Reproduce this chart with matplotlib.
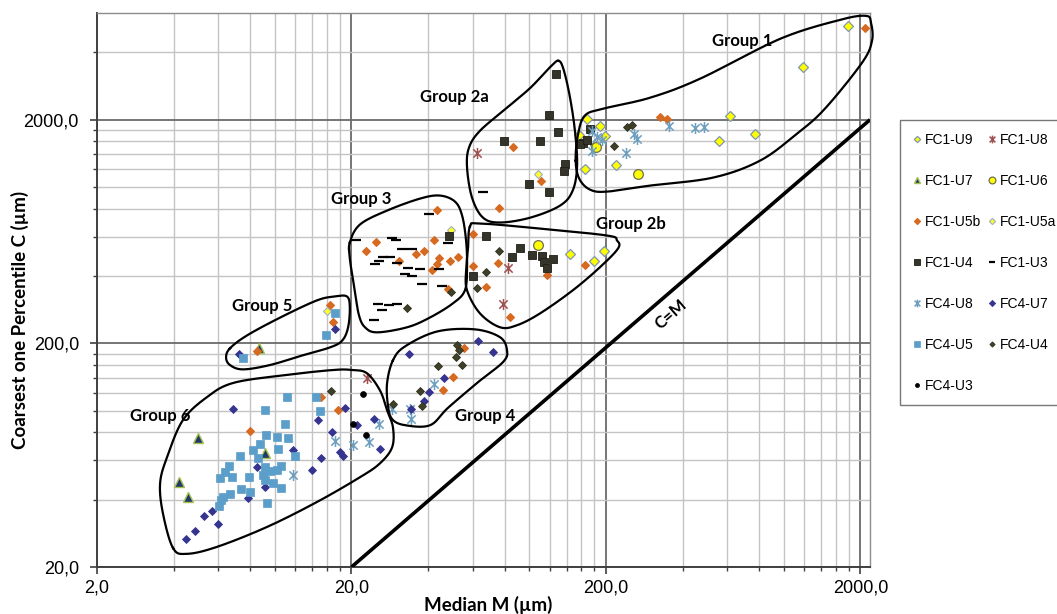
import numpy as np
import matplotlib
matplotlib.use('Agg')
import matplotlib.pyplot as plt
from matplotlib.path import Path
from matplotlib.ticker import FixedLocator, FixedFormatter, NullFormatter

# ---------------- data (Median M, Coarsest one percentile C), µm ----------------
FC1_U9_M = [1781, 1186, 614, 557, 770, 168, 189, 181, 199, 166, 219, 157, 145, 180, 196]
FC1_U9_C = [5256, 3449, 2078, 1612, 1728, 2013, 1880, 1547, 1691, 1205, 1250, 1710, 503, 469, 515]

FC1_U8_M = [62.1, 82.6, 79.0, 23.1]
FC1_U8_C = [1415, 435, 301, 140]

FC1_U7_M = [4.97, 4.21, 4.57, 9.15, 8.66]
FC1_U7_C = [75.1, 48.1, 41.2, 64.4, 190.6]

FC1_U6_M = [268, 108, 183]
FC1_U6_C = [1145, 548, 1516]

FC1_U5b_M = [7.98, 17.7, 15.2, 16.4, 16.9, 8.54, 45.6, 50.2, 55.5, 84.1, 43.2, 60.2, 76.3, 25.0,
             22.8, 30.8, 35.8, 38.6, 42.2, 44.3, 43.5, 41.3, 48.8, 52.6, 48.0, 59.9, 75.1, 67.4,
             117, 165, 86.0, 111, 326, 347, 2084]
FC1_U5b_C = [81.2, 100.4, 115.2, 296, 249, 184, 124, 141.5, 191, 262, 793, 619, 805, 568,
             517, 469, 503, 515, 577, 482, 451, 426, 469, 486, 351, 444, 457, 357,
             404, 448, 1504, 1069, 2048, 2006, 5165]

FC1_U5a_M = [108, 49.1, 16.0]
FC1_U5a_C = [1145, 644, 279]

FC1_U4_M = [126.9, 119.8, 129.9, 110.1, 79.8, 138, 136.8, 99.4, 119.1, 173, 162.8, 158, 168.4,
            48.4, 67.5, 91.8, 85.7, 102, 111.8, 114.2, 124.2, 117, 60.2]
FC1_U4_C = [3194, 2094, 1768, 1607, 1607, 1264, 1176, 1033, 947, 1823, 1578, 1557, 1628,
            602, 602, 534, 489, 498, 494, 460, 478, 435, 402]

FC1_U3_M = [40.4, 20.8, 28.9, 29.9, 31.5, 34.5, 26.7, 28.3, 25.7, 24.7, 30.2, 33.4, 32.5,
            34.5, 37.2, 37.7, 44.3, 45.2, 48.0, 25.5, 28.0, 30.2, 26.4, 24.5, 65.9]
FC1_U3_C = [757, 577, 590, 580, 529, 527, 486, 489, 469, 451, 457, 434, 409,
            402, 431, 370, 431, 360, 561, 299, 296, 299, 283, 255, 951]

FC4_U8_M = [11.8, 17.2, 20.3, 23.4, 25.7, 28.9, 34.0, 34.2, 42.1, 176, 184, 193, 176, 239,
            258, 265, 355, 449, 485]
FC4_U8_C = [51.5, 73.0, 70.5, 72.7, 87.3, 101.3, 101.3, 92.2, 131.6, 1786, 1680, 1628, 1446, 1417,
            1732, 1637, 1871, 1836, 1852]

FC4_U7_M = [4.47, 4.85, 5.27, 5.65, 5.96, 6.85, 7.82, 8.51, 9.15, 11.8, 14.0, 15.2, 14.8, 16.7,
            18.1, 18.6, 18.9, 21.1, 24.6, 26.0, 33.8, 34.3, 38.6, 40.3, 46.3, 63.0, 72.1, 7.23, 17.2]
FC4_U7_C = [26.8, 29.0, 33.8, 35.6, 31.0, 102, 40.8, 55.9, 45.7, 66.6, 54.2, 61.7, 90.7, 80.1,
            65.4, 62.8, 103, 86.1, 91.6, 67.3, 178.6, 101.5, 111, 120.8, 140.6, 204, 183, 180, 233]

FC4_U5_M = [11.13, 9.15, 14.47, 15.04, 10.96, 9.23, 10.17, 11.23, 8.17, 8.74, 10.26, 7.29, 6.60,
            8.61, 9.15, 9.57, 10.57, 10.17, 6.37, 6.09, 6.77, 7.91, 8.96, 9.15, 9.86, 10.57, 7.33,
            7.98, 6.66, 6.25, 6.14, 6.03, 9.29, 12.0, 7.47, 15.9, 17.2]
FC4_U5_C = [115.2, 101.2, 115.2, 99.4, 87.6, 77.7, 76.4, 75.6, 66.9, 71.3, 67.1, 62.6, 56.5,
            61.5, 56.1, 53.7, 56.5, 54.2, 53.3, 49.8, 50.3, 50.3, 51.5, 48.9, 47.6, 45.2, 44.8,
            43.4, 42.2, 41.2, 39.8, 37.6, 38.5, 62.4, 172.7, 217, 273]

FC4_U4_M = [76.2, 67.4, 62.4, 49.2, 33.0, 51.8, 52.7, 51.5, 54.2, 43.6, 37.2, 37.7, 29.1, 16.6,
            215, 242, 253]
FC4_U4_C = [520, 416, 353, 339, 289, 197, 187, 173, 160, 158, 122, 105, 107, 123,
            1522, 1862, 1890]

FC4_U3_M = [22.1, 20.3, 22.9]
FC4_U3_C = [119, 86.8, 77.7]

# group envelopes (M, C)
G1_M = [152, 155, 165, 195, 298, 468, 966, 1661, 2102, 2200, 2220, 2028, 1450, 1126, 806, 527, 298, 202, 173, 157]
G1_C = [1312, 1698, 2084, 2240, 2508, 3048, 4598, 5590, 5826, 5420, 4506, 3594, 2240, 1732, 1312, 1102, 1015, 954, 974, 1090]
G2a_M = [130, 136, 144, 151, 154, 148, 132, 101, 76.7, 65.7, 59.5, 56.9, 57.9, 64.0, 81.7, 101, 121]
G2a_C = [3668, 3378, 2560, 1786, 1246, 964, 826, 730, 694, 730, 897, 1221, 1500, 1786, 2263, 2780, 3449]
G2b_M = [58.4, 64.0, 110, 202, 221, 223, 189, 148, 110, 89.4, 76.7, 64.0, 56.9, 56.4, 57.4]
G2b_C = [666, 687, 652, 607, 577, 531, 437, 345, 272, 241, 236, 272, 345, 424, 531]
G3_M = [19.7, 21.6, 27.6, 37.2, 44.5, 51.0, 54.4, 56.4, 56.9, 55.8, 50.1, 40.7, 33.1, 25.2, 22.6, 21.4, 20.6, 19.7]
G3_C = [565, 680, 785, 888, 916, 861, 746, 577, 437, 345, 302, 261, 236, 224, 236, 267, 345, 479]
G4_M = [29.1, 32.5, 43.4, 61.1, 76.7, 81.7, 78.8, 62.8, 47.9, 40.7, 32.5, 28.9, 27.8, 27.6]
G4_C = [168, 194, 226, 231, 213, 186, 165, 134, 103, 86.1, 86.1, 91.6, 106, 133]
G5_M = [6.66, 7.77, 10.5, 14.6, 17.2, 19.2, 19.7, 19.4, 18.4, 16.5, 12.9, 9.57, 7.49, 6.66, 6.43]
G5_C = [190, 217, 261, 311, 324, 324, 290, 236, 206, 192, 177, 160, 153, 160, 173]
G6_M = [3.98, 3.63, 3.54, 3.77, 4.35, 5.41, 6.85, 10.8, 16.9, 20.1, 23.0, 25.9, 27.6, 29.1, 28.9,
        25.9, 21.6, 14.6, 9.31, 5.92, 4.51]
G6_C = [24.3, 34.8, 47.4, 62.0, 90.7, 115, 133, 144, 152, 152, 147, 123, 100.4, 84.3, 68.7,
        58.2, 50.4, 39.0, 30.2, 24.6, 22.9]

group_names = ['Group 1', 'Group 2a', 'Group 2b', 'Group 3', 'Group 4', 'Group 5', 'Group 6']
group_label_M = [684, 50.6, 250, 21.8, 66.9, 8.92, 3.54]
group_label_C = [4506, 2516, 685, 888, 94.8, 294, 94.8]

cm_line_M = [20, 2180]
cm_line_C = [20, 2000]

x_major = [2, 20, 200, 2000]
x_labels = ['2,0', '20,0', '200,0', '2000,0']
y_major = [20, 200, 2000]
y_labels = ['20,0', '200,0', '2000,0']


def smooth_closed(xs, ys, n=24):
    P = np.column_stack([np.log10(xs), np.log10(ys)])
    N = len(P)
    segs = []
    t = np.linspace(0, 1, n, endpoint=False)[:, None]
    for i in range(N):
        p0, p1, p2, p3 = P[(i - 1) % N], P[i], P[(i + 1) % N], P[(i + 2) % N]
        seg = 0.5 * ((2 * p1) + (-p0 + p2) * t + (2 * p0 - 5 * p1 + 4 * p2 - p3) * t ** 2
                     + (-p0 + 3 * p1 - 3 * p2 + p3) * t ** 3)
        segs.append(seg)
    out = np.vstack(segs + [P[:1]])
    return 10 ** out[:, 0], 10 ** out[:, 1]


# asterisk marker like Excel's (vertical bar + X)
ast = Path([(0, -1), (0, 1), (-0.75, -0.75), (0.75, 0.75), (-0.75, 0.75), (0.75, -0.75)],
           [Path.MOVETO, Path.LINETO, Path.MOVETO, Path.LINETO, Path.MOVETO, Path.LINETO])

fig = plt.figure(figsize=(10.57, 6.14), dpi=100)
ax = fig.add_axes([97 / 1057, 1 - 567 / 614, (870 - 97) / 1057, (567 - 13) / 614])
ax.set_xscale('log')
ax.set_yscale('log')
ax.set_xlim(2, 2180)
ax.set_ylim(20, 6000)

x_minor = [m * k for m in [2, 20, 200] for k in range(2, 10)]
y_minor = [m * k for m in [20, 200] for k in range(2, 10)] + [4000]
ax.xaxis.set_major_locator(FixedLocator(x_major))
ax.xaxis.set_major_formatter(FixedFormatter(x_labels))
ax.xaxis.set_minor_locator(FixedLocator(x_minor))
ax.xaxis.set_minor_formatter(NullFormatter())
ax.yaxis.set_major_locator(FixedLocator(y_major))
ax.yaxis.set_major_formatter(FixedFormatter(y_labels))
ax.yaxis.set_minor_locator(FixedLocator(y_minor))
ax.yaxis.set_minor_formatter(NullFormatter())

ax.grid(which='major', color='#6a6a6a', lw=1.3)
ax.grid(which='minor', color='#c4c4c4', lw=1.0)
ax.set_axisbelow(True)
ax.tick_params(which='major', direction='out', length=5, width=1.2, color='#404040')
ax.tick_params(which='minor', direction='out', length=3, width=1.0, color='#404040')
ax.tick_params(axis='x', which='major', pad=4)
ax.tick_params(axis='y', which='major', pad=8)
for lab in ax.get_xticklabels() + ax.get_yticklabels():
    lab.set_fontfamily('Liberation Sans')
    lab.set_fontsize(13)
for s in ['left', 'bottom']:
    ax.spines[s].set_color('#404040')
    ax.spines[s].set_linewidth(1.4)
for s in ['top', 'right']:
    ax.spines[s].set_color('#8c8c8c')
    ax.spines[s].set_linewidth(1.0)

series = [
    ('FC1-U9', FC1_U9_M, FC1_U9_C, dict(marker='D', ms=4.6, mfc='#ffff00', mec='#7f96b2', mew=0.9)),
    ('FC1-U8', FC1_U8_M, FC1_U8_C, dict(marker=ast, ms=8, mfc='none', mec='#a0504f', mew=1.1)),
    ('FC1-U7', FC1_U7_M, FC1_U7_C, dict(marker='^', ms=7, mfc='#1f3a6b', mec='#a8c050', mew=1.0)),
    ('FC1-U6', FC1_U6_M, FC1_U6_C, dict(marker='o', ms=7, mfc='#ffff00', mec='#6f6f50', mew=0.9)),
    ('FC1-U5b', FC1_U5b_M, FC1_U5b_C, dict(marker='D', ms=4.5, mfc='#d66a21', mec='#d66a21', mew=0.8)),
    ('FC1-U5a', FC1_U5a_M, FC1_U5a_C, dict(marker='D', ms=4.5, mfc='#ffff30', mec='#9fb0c0', mew=0.8)),
    ('FC1-U4', FC1_U4_M, FC1_U4_C, dict(marker='s', ms=6, mfc='#34342a', mec='#1e1e14', mew=0.6)),
    ('FC1-U3', FC1_U3_M, FC1_U3_C, dict(marker='_', ms=7, mfc='k', mec='k', mew=1.6)),
    ('FC4-U8', FC4_U8_M, FC4_U8_C, dict(marker=ast, ms=8, mfc='none', mec='#6e9fbf', mew=1.1)),
    ('FC4-U7', FC4_U7_M, FC4_U7_C, dict(marker='D', ms=4.5, mfc='#35348f', mec='#35348f', mew=0.6)),
    ('FC4-U5', FC4_U5_M, FC4_U5_C, dict(marker='s', ms=6.2, mfc='#5b9ec9', mec='#5b9ec9', mew=0.5)),
    ('FC4-U4', FC4_U4_M, FC4_U4_C, dict(marker='D', ms=3.8, mfc='#404028', mec='#303020', mew=0.6)),
    ('FC4-U3', FC4_U3_M, FC4_U3_C, dict(marker='o', ms=4.2, mfc='k', mec='k', mew=0.5)),
]
handles = {}
for name, M, C, st in series:
    h, = ax.plot(M, C, linestyle='none', label=name, zorder=3, **st)
    handles[name] = h

# group envelopes
for gm, gc in [(G1_M, G1_C), (G2a_M, G2a_C), (G2b_M, G2b_C), (G3_M, G3_C),
               (G4_M, G4_C), (G5_M, G5_C), (G6_M, G6_C)]:
    sx, sy = smooth_closed(gm, gc)
    ax.plot(sx, sy, color='k', lw=1.6, zorder=4, clip_on=False)

ax.plot(cm_line_M, cm_line_C, color='k', lw=2.6, zorder=4, solid_capstyle='butt')

for name, gm, gc in zip(group_names, group_label_M, group_label_C):
    ax.text(gm, gc, name, ha='center', va='center', fontfamily='Lato',
            fontweight='bold', fontsize=12, zorder=5)
ax.text(360, 270, 'C=M', rotation=41, ha='center', va='center', fontfamily='Lato',
        fontweight='bold', fontsize=12, zorder=5, rotation_mode='anchor')

fig.text(488 / 1057, 1 - 605 / 614, 'Median M (µm)', ha='center', va='center',
         fontfamily='Lato', fontweight='bold', fontsize=13.5)
fig.text(20 / 1057, 1 - 320 / 614, 'Coarsest one Percentile C (µm)', ha='center', va='center',
         rotation=90, fontfamily='Lato', fontweight='bold', fontsize=13.5)

order = ['FC1-U9', 'FC1-U7', 'FC1-U5b', 'FC1-U4', 'FC4-U8', 'FC4-U5', 'FC4-U3',
         'FC1-U8', 'FC1-U6', 'FC1-U5a', 'FC1-U3', 'FC4-U7', 'FC4-U4']
leg = fig.legend([handles[k] for k in order], order, loc='upper left',
                 bbox_to_anchor=(900 / 1057, 1 - 120 / 614), borderaxespad=0,
                 ncol=2, frameon=True, fancybox=False, edgecolor='#555555',
                 prop={'family': 'Liberation Sans', 'size': 10},
                 handlelength=0.7, handletextpad=0.2, labelspacing=1.95,
                 columnspacing=0.45, borderpad=0.9, markerscale=0.7)
leg.get_frame().set_linewidth(1.0)

fig.savefig('out.png', dpi=100)
